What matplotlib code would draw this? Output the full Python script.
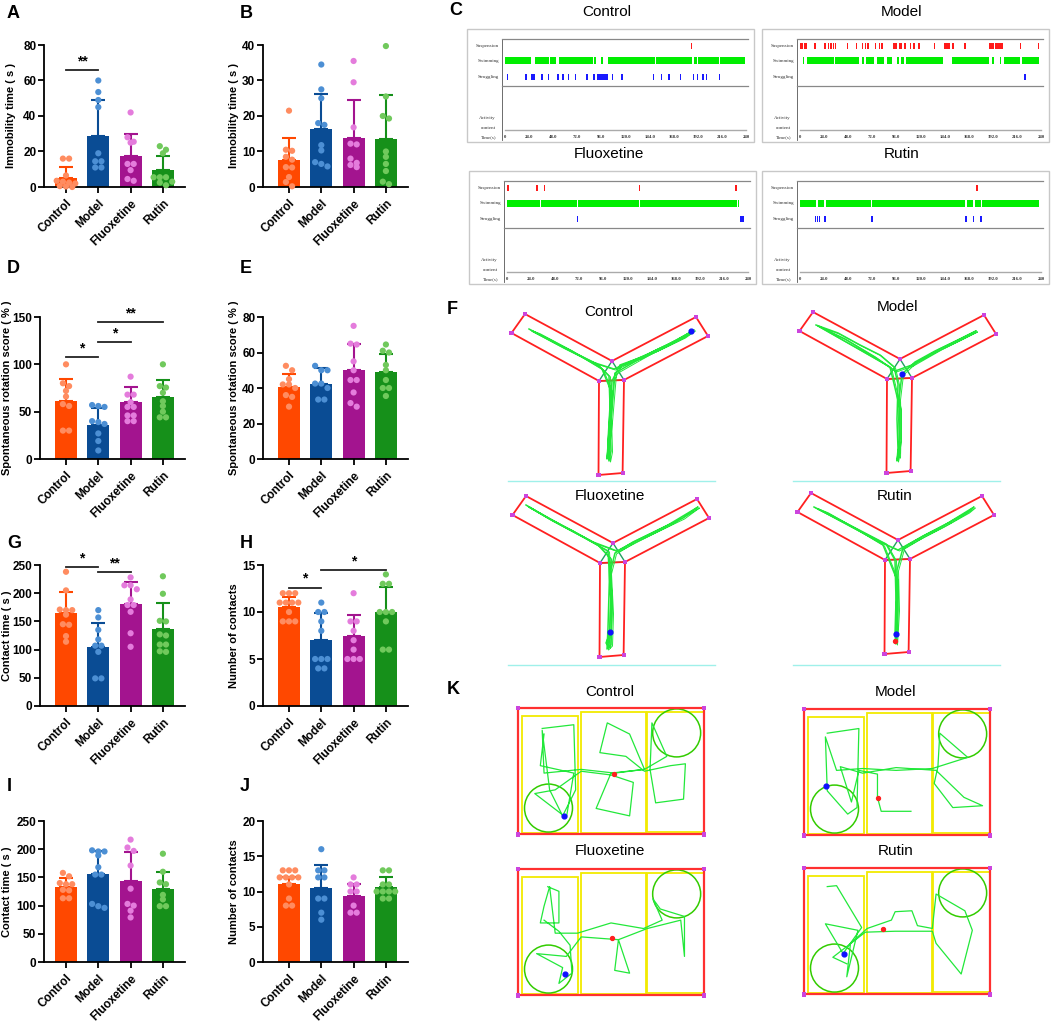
import numpy as np
import matplotlib
matplotlib.use("Agg")
import matplotlib.pyplot as plt
from matplotlib.patches import Rectangle, Circle, Polygon

plt.rcParams['font.family'] = ['Liberation Sans', 'DejaVu Sans']

W, H = 1052, 1021
groups = ['Control', 'Model', 'Fluoxetine', 'Rutin']
bar_colors = ['#FF4800', '#0A4C94', '#A3148F', '#16901A']
dot_colors = ['#FF8C60', '#4C8FD4', '#E47CDC', '#70C95C']

# ---- bar panels: means, upper error (SD), individual values ----
a_mean = [4.8, 28.7, 17.6, 9.8]
a_err = [6.2, 20.5, 12.4, 7.8]
a_dots = [[16, 16, 6.5, 3.5, 3, 2.5, 2, 0.5, 0.3, 0],
          [60, 53.5, 49, 45, 19, 14.5, 14.5, 11, 11],
          [42, 28, 25.5, 25, 13, 13, 9.5, 4.5, 3.5],
          [23, 21, 19, 5.5, 5.5, 5.5, 3, 2.5, 1]]

b_mean = [7.5, 16.3, 13.8, 13.6]
b_err = [6.3, 10.0, 10.7, 12.4]
b_dots = [[21.5, 10.5, 10.2, 8.5, 7.7, 5.6, 5.5, 2.8, 1.4, 0.2],
          [34.5, 27.5, 25, 18, 17.5, 11.8, 10.3, 7, 6.5, 5.8],
          [35.5, 29.5, 16.8, 12.2, 12, 8, 6.8, 6.2, 5.6],
          [39.7, 25.5, 20, 19.3, 10, 8.5, 6.5, 4.5, 1.5, 0.8]]

d_mean = [61.4, 35.6, 60.7, 65.3]
d_err = [23.3, 18.0, 15.2, 17.7]
d_dots = [[100, 80, 77, 72, 66, 58, 56, 30, 30],
          [57, 56, 55, 40, 39, 37, 27, 19, 9],
          [87, 68, 68, 60, 55, 55, 46, 46, 40, 40],
          [100, 77, 75.5, 70, 61, 56, 50, 44, 44]]

e_mean = [40.5, 42.4, 49.9, 48.8]
e_err = [7.3, 8.8, 15.0, 10.5]
e_dots = [[52.5, 50, 45, 42, 42, 40, 36, 35, 29.5],
          [52.5, 50, 50, 42.5, 42.5, 40, 33.5, 33.5],
          [75, 65, 64.5, 55, 50, 44.5, 44.5, 37.5, 31.5, 29.5],
          [64.5, 61, 60, 53, 50, 44.5, 40, 40, 35.5]]

g_mean = [164.3, 105.2, 180.3, 136]
g_err = [38.4, 41.4, 39, 47]
g_dots = [[238, 205, 171, 170, 170, 162, 145, 144, 124, 114],
          [170, 157, 135, 118, 107, 107, 96, 49, 49],
          [228, 214, 214, 207, 189, 179, 179, 167, 129, 105],
          [230, 199, 151, 150, 127, 125, 109, 109, 97, 96]]

h_mean = [10.5, 7.0, 7.4, 10.0]
h_err = [1.1, 2.9, 2.3, 2.7]
h_dots = [[12, 12, 12, 11, 11, 11, 11, 10, 9, 9, 9],
          [11, 10, 10, 9, 8, 5, 5, 5, 4, 4],
          [12, 9, 9, 8, 7, 6, 5, 5, 5],
          [14, 13, 13, 10, 10, 10, 9, 6, 6]]

i_mean = [133, 155.3, 143.5, 129.4]
i_err = [16.4, 40.7, 51, 30]
i_dots = [[158, 152, 140, 138, 138, 128, 127, 113, 113],
          [198, 196, 196, 189, 168, 155, 155, 103, 99, 96],
          [217, 203, 197, 171, 130, 103, 100, 91, 79],
          [192, 160, 141, 138, 119, 111, 99, 99]]

j_mean = [11.0, 10.5, 9.4, 10.6]
j_err = [1.0, 3.2, 1.7, 1.4]
j_dots = [[13, 13, 13, 12, 12, 12, 12, 11, 9, 8, 8],
          [16, 13, 13, 12, 12, 9, 9, 7, 6],
          [12, 11, 11, 10, 10, 8, 7, 7],
          [13, 13, 11, 11, 10, 10, 10, 10, 9, 9]]

# ---- C: behaviour events (seconds); number = thin tick, tuple = block ----
ctrl_susp = [186]
ctrl_swim = [(0, 26), (30, 44), (45, 51), (54, 88), (89, 91), (96, 97), (103, 149),
             (150, 186), (188, 191), (192, 213), (214, 239)]
ctrl_strug = [2.7, 20.9, (26, 30), 36.8, 43.3, (52, 54), 57.7, 63.4, 70.2, 81.6, (88, 90),
              (92, 103), 107, 116.6, 148, 155.7, 163.3, 174.7, (186.8, 188.7), 191.8, 197,
              200.9, 213.4]
model_susp = [(0, 2.5), (4, 7), 14.8, 25, 28.4, 31, 33.6, 35.6, 47.1, 56, 62, 65.3, 67.6,
              75.2, 79, 81.8, (92.6, 96.6), (98.2, 101.5), (103.5, 105.5), 109.8, 113.7,
              118.7, 133.9, (143.7, 149.4), (151.7, 153.6), 164.2, (187.9, 193.2),
              (194.5, 202.1), 219.6, 237.4]
model_swim = [(2.6, 4.3), (6.6, 34), (35, 58.7), (61.3, 63.6), (65.3, 73.5), (76.8, 83.4),
              (86.7, 91.6), (96.6, 98.2), (100.9, 103.5), (105.5, 142.8), (151, 187.9),
              (191.2, 193.2), (198.8, 200.4), (203.1, 218.6), (220.9, 238.4)]
model_strug = [(223.5, 225)]
flx_susp = [1.1, 30, 37.5, 132, 228]
flx_swim = [(0, 33), (34, 70), (71, 131.5), (132.5, 229), (230, 231.5)]
flx_strug = [70.5, (232.5, 236.3)]
rut_susp = [176.4]
rut_swim = [(0, 16.4), (17.9, 23.9), (25.8, 70.6), (71.8, 164.5), (166, 172.7),
            (174.6, 180.2), (181.3, 238)]
rut_strug = [15.7, 17.6, 19.4, 25, 71.8, 165.2, 172.7, 180.2]
time_ticks = ['0', '24.0', '48.0', '72.0', '96.0', '120.0', '144.0', '168.0', '192.0',
              '216.0', '240']

# ---- F: Y-maze tracks (offsets from arm junction) ----
ctrl_f = [(-83, -32), (-60, -20), (-35, -7), (-15, 3), (-3, 15), (-2, 45), (-4, 80), (-3, 100),
          (-1, 90), (-2, 55), (0, 20), (8, 4), (30, -4), (55, -16), (79, -29), (72, -24),
          (45, -11), (20, 0), (2, 8), (-20, 1), (-48, -13), (-80, -30), (-72, -27), (-40, -10),
          (-10, 8), (-1, 30), (-3, 70), (-5, 98), (-1, 60), (3, 12), (40, -9), (65, -21),
          (82, -31)]
model_f = [(-84, -34), (-62, -26), (-40, -14), (-20, -4), (-6, 8), (-2, 25), (-3, 60), (-2, 90),
           (-3, 102), (0, 80), (-1, 40), (2, 15), (15, 3), (35, -8), (58, -19), (76, -28),
           (70, -25), (40, -10), (12, 6), (-5, 12), (-25, -2), (-55, -20), (-82, -33),
           (-45, -12), (-10, 8), (0, 50), (-1, 98)]
flx_f = [(-87, -38), (-65, -25), (-40, -12), (-15, 2), (-3, 15), (-4, 50), (-5, 85), (-6, 106),
         (-2, 102), (-1, 70), (-3, 30), (2, 10), (20, -1), (45, -13), (70, -25), (85, -36),
         (80, -33), (55, -18), (25, -3), (4, 8), (-20, -1), (-50, -17), (-84, -36), (-60, -22),
         (-30, -6), (-5, 8), (-2, 60), (-4, 104), (-7, 100), (-3, 90)]
rut_f = [(-84, -33), (-60, -21), (-35, -8), (-12, 4), (-3, 20), (-2, 60), (-3, 95), (-2, 104),
         (0, 70), (-1, 30), (5, 8), (25, -4), (50, -17), (76, -33), (70, -28), (45, -14),
         (18, 0), (0, 10), (-22, 0), (-50, -15), (-80, -31), (-70, -27), (-40, -10), (-15, 5),
         (-1, 40), (-2, 94)]
f_blue = [(79, -30), (2, 15), (-3, 89), (-2, 94)]

# ---- K: open-field tracks (arena units, 100 x 68) ----
ctrl_k = [(13, 11), (30, 9), (31, 44), (24, 58), (17, 44), (13, 12), (14, 35), (34, 33), (52, 35),
          (68, 33), (60, 14), (48, 8), (44, 24), (58, 26), (68, 34), (82, 31), (90, 30), (89, 49),
          (74, 51), (71, 33), (72, 8), (80, 26), (68, 33), (50, 35), (42, 54), (60, 58), (62, 40),
          (50, 36), (34, 34), (20, 44), (9, 46), (26, 59), (30, 35), (12, 31), (14, 14)]
model_k = [(12.5, 13), (29.5, 10.5), (28.5, 53), (23.5, 56.5), (12.5, 44), (11.5, 15), (17.5, 33),
           (31.5, 32), (49.5, 33), (69, 32), (88, 26), (73, 13), (72, 31), (70, 40), (80, 53),
           (96, 52), (86, 47.5), (71, 33), (49.5, 31.5), (31.5, 34.5), (19.5, 31), (25.5, 50),
           (29.5, 33), (39.5, 35), (39.5, 47.5), (41.5, 55), (57.5, 55)]
flx_k = [(16, 9.5), (22, 12), (22, 29), (12, 29), (14, 20), (17, 9.5), (20, 34.5), (32, 34.5),
         (50, 29), (67.5, 32), (77.5, 27.5), (72.5, 16), (76.5, 21.5), (89.5, 25.5), (89.5, 47),
         (87.5, 27.5), (69.5, 32), (54, 38), (60, 56), (52, 54.5), (54, 38), (34, 36.5),
         (26, 47), (10, 45.5), (24, 53), (22, 61.5), (29, 56), (28, 41), (22, 33.5), (14, 27.5)]
rut_k = [(12.5, 10), (17.5, 9.5), (31, 32), (21, 46), (11.5, 30), (29, 33.5), (23, 58.5),
         (25, 40.5), (34, 32.5), (47, 28), (49, 23.5), (58, 23), (61, 31), (69, 32.5), (71, 14),
         (86.5, 23), (90.5, 33.5), (84.5, 57), (71, 40.5), (69, 34), (49, 34), (33, 34.5),
         (15.5, 48), (23, 51.5)]
k_blue = [(24.5, 58), (12, 41.5), (25.3, 56.3), (21.6, 46)]
k_red = [(51.8, 35.6), (39.6, 47.6), (50.8, 37.3), (42.5, 32.7)]

fig = plt.figure(figsize=(W / 100, H / 100), dpi=100)
ov = fig.add_axes([0, 0, 1, 1])
ov.set_xlim(0, W)
ov.set_ylim(H, 0)
ov.axis('off')

STEP = 32.3  # px between bars


def swarm(vals, ypx):
    # spread equal-looking values side by side, graphpad style
    order = np.argsort(vals)[::-1]
    offs = np.zeros(len(vals))
    row = []
    rows = []
    for k in order:
        if row and abs(vals[row[0]] - vals[k]) * ypx > 4.5:
            rows.append(row)
            row = []
        row.append(k)
    rows.append(row)
    for r in rows:
        n = len(r)
        for m, k in enumerate(r):
            offs[k] = (m - (n - 1) / 2) * 6.2
    return offs


def bar_panel(l, r, t, b, gap, mean, err, dots, ymax, ystep, ylabel, lab_x, sigs=()):
    ax = fig.add_axes([l / W, 1 - b / H, (r - l) / W, (b - t) / H])
    ax.set_xlim(-gap / STEP, (r - l - gap) / STEP)
    ax.set_ylim(0, ymax)
    x = np.arange(4)
    ax.bar(x, mean, width=0.68, color=bar_colors, zorder=2)
    for i in range(4):
        ax.errorbar(i, mean[i], yerr=[[0], [err[i]]], color=bar_colors[i], lw=1.5,
                    capsize=5, capthick=1.5, zorder=3)
        ypx = (b - t) / ymax
        offs = swarm(np.array(dots[i], float), ypx) / STEP
        ax.scatter(i + offs, dots[i], s=20, color=dot_colors[i], edgecolor='none',
                   zorder=4, clip_on=False)
    for i1, i2, yy, txt in sigs:
        ax.plot([i1, i2], [yy, yy], color='#222222', lw=1.3, zorder=5, clip_on=False)
        ax.text((i1 + i2) / 2, yy + ymax * 0.012, txt, ha='center', va='bottom',
                fontsize=10, fontweight='bold')
    ax.spines['top'].set_visible(False)
    ax.spines['right'].set_visible(False)
    for s in ('left', 'bottom'):
        ax.spines[s].set_linewidth(1.3)
    ax.set_yticks(np.arange(0, ymax + 0.01, ystep))
    ax.set_xticks(x)
    ax.set_xticklabels(groups, rotation=45, ha='right', rotation_mode='anchor')
    ax.tick_params(width=1.3, length=4, labelsize=8.5)
    ax.tick_params(axis='y', pad=1.5)
    for lab in ax.get_xticklabels() + ax.get_yticklabels():
        lab.set_fontweight('bold')
    ax.set_ylabel(ylabel, fontsize=8, fontweight='bold')
    ax.yaxis.set_label_coords((lab_x - l) / (r - l), 0.5)
    return ax


bar_panel(44, 185, 45, 187, 22, a_mean, a_err, a_dots, 80, 20, 'Immobility time ( s )', 16,
          [(0, 1, 65.7, '**')])
bar_panel(263, 408, 45, 187, 26, b_mean, b_err, b_dots, 40, 10, 'Immobility time ( s )', 239)
bar_panel(40, 185, 317, 459, 26, d_mean, d_err, d_dots, 150, 50,
          'Spontaneous rotation score ( % )', 12,
          [(0, 1, 107.7, '*'), (1, 2, 123.5, '*'), (1, 3, 144.4, '**')])
bar_panel(263, 408, 317, 459, 26, e_mean, e_err, e_dots, 80, 20,
          'Spontaneous rotation score ( % )', 239)
bar_panel(40, 185, 565, 706, 26, g_mean, g_err, g_dots, 250, 50, 'Contact time ( s )', 12,
          [(0, 1, 247, '*'), (1, 2, 237, '**')])
bar_panel(263, 408, 565, 706, 26, h_mean, h_err, h_dots, 15, 5, 'Number of contacts', 239,
          [(0, 1, 12.6, '*'), (1, 3, 14.5, '*')])
bar_panel(44, 185, 821, 962, 22, i_mean, i_err, i_dots, 250, 50, 'Contact time ( s )', 12)
bar_panel(263, 408, 821, 962, 26, j_mean, j_err, j_dots, 20, 5, 'Number of contacts', 239)

for letter, lx, ly in [('A', 7, 5), ('B', 240, 5), ('D', 7, 260), ('E', 240, 260),
                       ('G', 7, 535), ('H', 240, 535), ('I', 7, 778), ('J', 240, 778),
                       ('C', 449, 2), ('F', 447, 301), ('K', 447, 681)]:
    ov.text(lx, ly, letter, fontsize=13, fontweight='bold', va='top', ha='left')


# ---- C ethograms ----
def ev_rects(events, t2x, yc, h, color):
    for ev in events:
        if isinstance(ev, tuple):
            x0, x1 = t2x(ev[0]), t2x(ev[1])
        else:
            x0, x1 = t2x(ev) - 0.7, t2x(ev) + 0.7
        ov.add_patch(Rectangle((x0, yc - h / 2), max(x1 - x0, 1.4), h, color=color, lw=0))


def ethogram(L, T, title, susp, swim, strug):
    serif = dict(family='Liberation Serif', fontsize=3.6, color='#333333')
    ov.add_patch(Rectangle((L, T), 287, 113, fill=False, ec='#c8c8c8', lw=1.0))
    ov.text(L + 140, T - 17, title, ha='center', va='center', fontsize=11)
    vx = L + 35
    ov.plot([vx, vx], [T + 10, T + 111], color='#555555', lw=0.6)
    for yy in (T + 10, T + 57):
        ov.plot([vx, L + 281], [yy, yy], color='#888888', lw=0.9)
    t0, t1 = L + 38, L + 279

    def t2x(t):
        return t0 + (t1 - t0) * t / 240

    for lab, yy in (('Suspension', T + 17), ('Swimming', T + 32), ('Struggling', T + 48)):
        ov.text(vx - 3, yy, lab, ha='right', va='center', **serif)
    ev_rects(susp, t2x, T + 17, 6, '#ff1a1a')
    ev_rects(swim, t2x, T + 32, 7, '#00ee00')
    ev_rects(strug, t2x, T + 48, 6, '#1a1aff')
    ov.text(vx - 6, T + 89, 'Activity', ha='right', va='center', **serif)
    ov.text(vx - 6, T + 99, 'content', ha='right', va='center', **serif)
    ov.plot([t0, t1], [T + 101.5, T + 101.5], color='#aaaaaa', lw=1.0)
    ov.text(vx - 6, T + 108, 'Time(s)', ha='right', va='center', **serif)
    for k, lab in enumerate(time_ticks):
        ov.text(t2x(24 * k), T + 108, lab, ha='center', va='center', family='Liberation Serif',
                fontsize=3.4, fontweight='bold', color='#333333')


ethogram(467, 29, 'Control', ctrl_susp, ctrl_swim, ctrl_strug)
ethogram(762, 29, 'Model', model_susp, model_swim, model_strug)
ethogram(469, 171, 'Fluoxetine', flx_susp, flx_swim, flx_strug)
ethogram(762, 171, 'Rutin', rut_susp, rut_swim, rut_strug)

# ---- F Y-maze ----
y_left = [(0, 0), (-87, -47), (-100.5, -28), (-13, 20)]
y_right = [(0, 0), (84, -44), (96, -25), (12, 19)]
y_bottom = [(-13, 20), (-13.5, 114), (10.6, 112), (12, 19)]
y_tri = [(0, 0), (-13, 20), (12, 19)]


def ymaze(ox, oy, title, ty, path, blue, red=False):
    ov.text(ox - 3, ty, title, ha='center', va='center', fontsize=11)
    for poly in (y_left, y_right, y_bottom):
        pts = [(ox + px, oy + py) for px, py in poly]
        ov.add_patch(Polygon(pts, closed=False, fill=False, ec='#ff2020', lw=1.3))
    tri = [(ox + px, oy + py) for px, py in y_tri]
    ov.add_patch(Polygon(tri, closed=True, fill=False, ec='#20a060', lw=1.0))
    ov.plot([ox - 13, ox + 12], [oy + 20, oy + 19], color='#ff2020', lw=1.3)
    corners = [y_left[1], y_left[2], y_right[1], y_right[2], y_bottom[1], y_bottom[2],
               y_tri[0], y_tri[1], y_tri[2]]
    ov.scatter([ox + c[0] for c in corners], [oy + c[1] for c in corners], s=9, marker='s',
               color='#cc44dd', edgecolor='none', zorder=4)
    pth = np.array(path, float)
    ov.plot(ox + pth[:, 0], oy + pth[:, 1], color='#22e83a', lw=1.1, zorder=3)
    ov.plot(ox + pth[:, 0] + 1.5, oy + pth[:, 1] + 1, color='#22e83a', lw=0.7, zorder=3)
    ov.scatter([ox + blue[0]], [oy + blue[1]], s=12, color='#1010ff', zorder=5)
    if red:
        ov.scatter([ox + blue[0] - 1], [oy + blue[1] + 7], s=8, color='#ff2020', zorder=5)


ymaze(612, 361, 'Control', 312, ctrl_f, f_blue[0])
ymaze(900, 359, 'Model', 307, model_f, f_blue[1])
ymaze(613, 543, 'Fluoxetine', 496, flx_f, f_blue[2])
ymaze(898, 540, 'Rutin', 496, rut_f, f_blue[3], red=True)
for yy in (481, 665):
    ov.plot([508, 715], [yy, yy], color='#9ff0ea', lw=1.0)
    ov.plot([793, 1000], [yy, yy], color='#9ff0ea', lw=1.0)

# ---- K open field ----
SC = 1.86  # px per arena unit


def openfield(L, T, title, ty, path, blue, red):
    ov.text(L + 92, ty, title, ha='center', va='center', fontsize=11)

    def px(u, v):
        return L + u * SC, T + v * SC

    for (u0, v0, u1, v1) in [(2.2, 4.3, 32.3, 67.2), (33.9, 2.2, 68.6, 67.2),
                             (69.2, 2.2, 100, 66.7)]:
        x0, y0 = px(u0, v0)
        ov.add_patch(Rectangle((x0, y0), (u1 - u0) * SC, (v1 - v0) * SC, fill=False,
                               ec='#f2ea00', lw=1.3))
    for cu, cv in [(85.3, 13.4), (16.4, 53.8)]:
        ov.add_patch(Circle(px(cu, cv), 12.9 * SC, fill=False, ec='#33cc00', lw=1.1))
    ov.add_patch(Rectangle((L, T), 100 * SC, 68 * SC, fill=False, ec='#ff3030', lw=1.6))
    ov.scatter([L, L + 100 * SC, L, L + 100 * SC], [T, T, T + 68 * SC, T + 68 * SC], s=10,
               marker='s', color='#cc44dd', edgecolor='none', zorder=5)
    pth = np.array(path, float)
    ov.plot(L + pth[:, 0] * SC, T + pth[:, 1] * SC, color='#22e83a', lw=0.9, zorder=3)
    ov.scatter(*px(*blue), s=12, color='#1010ff', zorder=5)
    ov.scatter(*px(*red), s=8, color='#ff2020', zorder=5)


openfield(518, 708, 'Control', 692, ctrl_k, k_blue[0], k_red[0])
openfield(804, 709, 'Model', 692, model_k, k_blue[1], k_red[1])
openfield(518, 869, 'Fluoxetine', 851, flx_k, k_blue[2], k_red[2])
openfield(804, 868, 'Rutin', 851, rut_k, k_blue[3], k_red[3])

fig.savefig('out.png', dpi=100)
